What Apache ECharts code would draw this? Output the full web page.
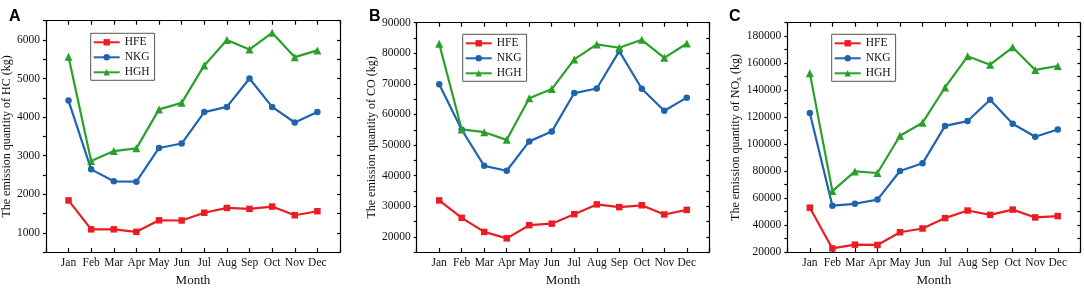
<!DOCTYPE html>
<html>
<head>
<meta charset="utf-8">
<script src="https://cdn.jsdelivr.net/npm/echarts@6/dist/echarts.min.js"></script>
<style>
html,body{margin:0;padding:0;background:#fff;}
#c{width:1084px;height:292px;}
</style>
</head>
<body>
<div id="c"></div>
<script>
const months = ['Jan','Feb','Mar','Apr','May','Jun','Jul','Aug','Sep','Oct','Nov','Dec'];
const seriesNames = ['HFE','NKG','HGH'];

const hcHFE = [1840,1090,1090,1025,1325,1320,1520,1645,1620,1680,1455,1560];
const hcNKG = [4430,2645,2335,2325,3200,3315,4130,4265,5000,4265,3860,4130];
const hcHGH = [5565,2860,3120,3190,4200,4370,5340,6000,5755,6185,5555,5730];

const coHFE = [31900,26200,21600,19500,23800,24300,27400,30600,29700,30300,27300,28800];
const coNKG = [69900,55000,43200,41600,51200,54400,67000,68500,80700,68400,61200,65500];
const coHGH = [83100,55100,54200,51700,65300,68300,78000,82900,81800,84400,78500,83200];

const noxHFE = [52900,22700,25500,25300,34700,37500,45200,50800,47600,51500,45700,46700];
const noxNKG = [123100,54400,55800,58900,80100,85800,113500,117100,132900,115100,105500,110800];
const noxHGH = [152600,65200,79800,78600,106200,115900,142000,165100,158900,171800,155000,157900];

const yTicksA = {min:500, max:6500, minor:500, major:1000};
const yTicksB = {min:15000, max:90000, minor:5000, major:10000};
const yTicksC = {min:20000, max:190000, minor:10000, major:20000};

const colors = {HFE:'#ec1c24', NKG:'#1f64b0', HGH:'#2aa02b'};
const symbols = {HFE:'rect', NKG:'circle', HGH:'triangle'};
const symSizes = {HFE:6.5, NKG:6.5, HGH:8};
const FONT = 'Liberation Serif';
const TXT = '#111';

const panels = [
  {grid:{left:45.7, top:20.7, width:294.3, height:237}, y:yTicksA, data:[hcHFE,hcNKG,hcHGH],
   name:'The emission quantity of HC (kg)', nameGap:26, legend:{left:90.7, top:33.3}},
  {grid:{left:416.7, top:22.7, width:292.6, height:234.6}, y:yTicksB, data:[coHFE,coNKG,coHGH],
   name:'The emission quantity of CO (kg)', nameGap:34, legend:{left:462.7, top:34.3}},
  {grid:{left:787.3, top:22.7, width:293, height:235}, y:yTicksC, data:[noxHFE,noxNKG,noxHGH],
   name:'{a|The emission quantity of NO}{s|x}{a| (kg)}', nameGap:44, legend:{left:831.7, top:34.3}}
];

const axisLine = {show:true, onZero:false, lineStyle:{color:'#000', width:1.2}};
const grid=[], xAxis=[], yAxis=[], series=[], legend=[];
panels.forEach((p,gi)=>{
  grid.push(p.grid);
  xAxis.push({type:'value', gridIndex:gi, min:0, max:13, interval:1, position:'bottom',
    axisLine, splitLine:{show:false},
    axisTick:{show:true, inside:true, length:4, lineStyle:{color:'#000', width:1.2}},
    axisLabel:{margin:5, color:TXT, fontFamily:FONT, fontSize:11.5,
      formatter:v=>months[v-1]||''},
    name:'Month', nameLocation:'middle', nameGap:19,
    nameTextStyle:{color:TXT, fontFamily:FONT, fontSize:13}});
  xAxis.push({type:'value', gridIndex:gi, min:0, max:13, interval:1, position:'top',
    axisLine, splitLine:{show:false},
    axisTick:{show:true, inside:true, length:4, lineStyle:{color:'#000', width:1.2}},
    axisLabel:{show:false}});
  yAxis.push({type:'value', gridIndex:gi, min:p.y.min, max:p.y.max, interval:p.y.minor, position:'left',
    axisLine, splitLine:{show:false},
    axisTick:{show:true, inside:false, length:3, lineStyle:{color:'#000', width:1.2}},
    axisLabel:{margin:6, color:TXT, fontFamily:FONT, fontSize:11.5,
      formatter:v=>(v % p.y.major === 0 ? String(v) : '')},
    name:p.name, nameLocation:'middle', nameGap:p.nameGap, nameRotate:90,
    nameTextStyle:{color:TXT, fontFamily:FONT, fontSize:12,
      rich:{a:{color:TXT, fontFamily:FONT, fontSize:12, lineHeight:14},
            s:{color:TXT, fontFamily:FONT, fontSize:8, lineHeight:8, verticalAlign:'bottom'}}}});
  yAxis.push({type:'value', gridIndex:gi, min:p.y.min, max:p.y.max, interval:p.y.minor, position:'right',
    axisLine, splitLine:{show:false},
    axisTick:{show:true, inside:true, length:3, lineStyle:{color:'#000', width:1.2}},
    axisLabel:{show:false}});
  seriesNames.forEach((n,si)=>{
    series.push({type:'line', name:n, xAxisIndex:gi*2, yAxisIndex:gi*2,
      data:months.map((m,i)=>[i+1, p.data[si][i]]),
      symbol:symbols[n], symbolSize:symSizes[n], showAllSymbol:true,
      itemStyle:{color:colors[n]}, lineStyle:{color:colors[n], width:2.2},
      emphasis:{disabled:true}, animation:false});
  });
  legend.push({orient:'vertical', left:p.legend.left, top:p.legend.top, data:seriesNames,
    padding:[3,5,2,2], itemGap:3, itemWidth:26, itemHeight:8,
    borderColor:'#555', borderWidth:1, backgroundColor:'#fff',
    textStyle:{color:TXT, fontFamily:FONT, fontSize:11.5, lineHeight:11}, selectedMode:false});
});

const chart = echarts.init(document.getElementById('c'), null, {renderer:'canvas'});
chart.setOption({
  animation:false,
  backgroundColor:'#fff',
  title:[
    {text:'A', left:4, top:4, textStyle:{fontFamily:'Liberation Sans', fontWeight:'bold', fontSize:16, color:'#000'}},
    {text:'B', left:364, top:4, textStyle:{fontFamily:'Liberation Sans', fontWeight:'bold', fontSize:16, color:'#000'}},
    {text:'C', left:724, top:4, textStyle:{fontFamily:'Liberation Sans', fontWeight:'bold', fontSize:16, color:'#000'}}
  ],
  grid, xAxis, yAxis, legend, series
});
</script>
</body>
</html>
